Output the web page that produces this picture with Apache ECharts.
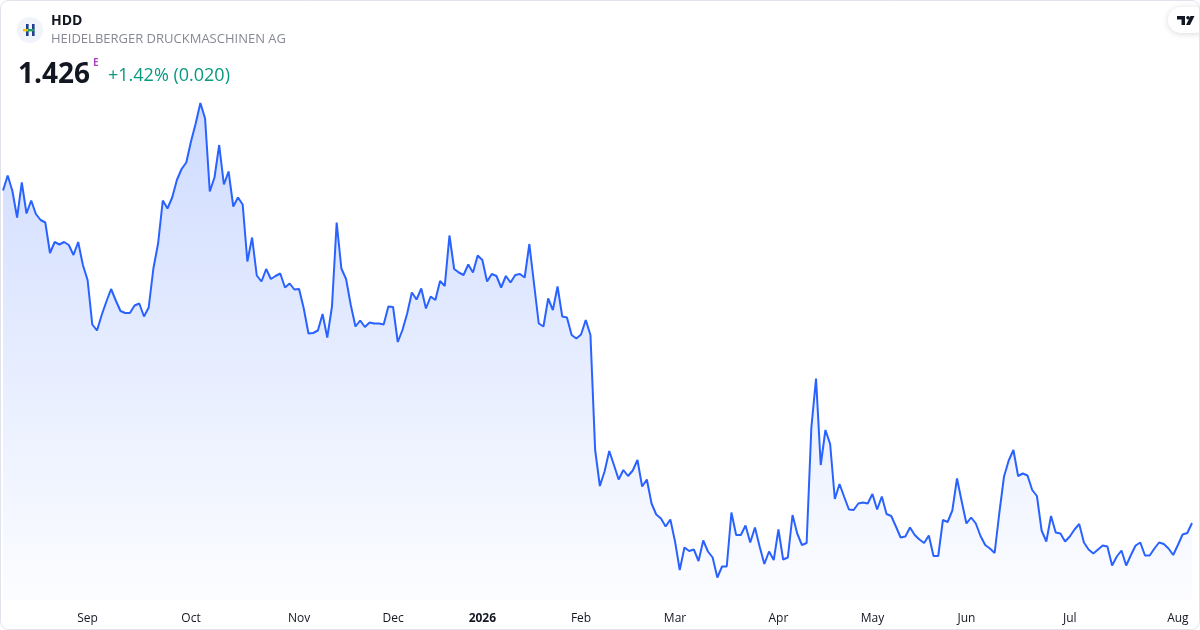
<!DOCTYPE html>
<html lang="en">
<head>
    <meta charset="UTF-8">
    <title>HDD</title>
    <script src="https://cdn.jsdelivr.net/npm/echarts@6/dist/echarts.min.js"></script>
    <style>
        html, body { margin: 0; padding: 0; background: #fff; }
    </style>
</head>
<body>
    <div id="main" style="width: 1200px; height: 630px;"></div>
    <script type="text/javascript">
        // symbol / header
        var ticker = 'HDD';
        var company = 'HEIDELBERGER DRUCKMASCHINEN AG';
        var lastPrice = '1.426';
        var change = '+1.42% (0.020)';

        // trading calendar (Xetra), first session and closed days
        var firstDay = '2025-08-06';
        var holidays = ['2025-12-24', '2025-12-25', '2025-12-26', '2025-12-31',
            '2026-01-01', '2026-04-03', '2026-04-06', '2026-05-01'];
        var monthNames = ['Jan', 'Feb', 'Mar', 'Apr', 'May', 'Jun', 'Jul', 'Aug', 'Sep', 'Oct', 'Nov', 'Dec'];

        // daily closes
        var closes = [
            2.091, 2.121, 2.090, 2.037, 2.107, 2.045, 2.071, 2.044, 2.032, 2.027,
            1.966, 1.988, 1.983, 1.988, 1.982, 1.962, 1.988, 1.942, 1.912, 1.823,
            1.811, 1.842, 1.869, 1.894, 1.871, 1.850, 1.846, 1.846, 1.861, 1.865,
            1.839, 1.857, 1.935, 1.985, 2.071, 2.055, 2.077, 2.112, 2.134, 2.147,
            2.189, 2.225, 2.266, 2.235, 2.089, 2.117, 2.182, 2.103, 2.129, 2.059,
            2.077, 2.063, 1.949, 1.997, 1.921, 1.909, 1.934, 1.914, 1.920, 1.925,
            1.897, 1.905, 1.893, 1.894, 1.855, 1.805, 1.806, 1.811, 1.844, 1.797,
            1.859, 2.027, 1.935, 1.914, 1.862, 1.819, 1.831, 1.818, 1.827, 1.825,
            1.825, 1.823, 1.859, 1.858, 1.788, 1.812, 1.845, 1.887, 1.873, 1.895,
            1.855, 1.879, 1.872, 1.910, 1.900, 2.001, 1.934, 1.927, 1.922, 1.943,
            1.927, 1.961, 1.952, 1.909, 1.924, 1.920, 1.897, 1.920, 1.907, 1.922,
            1.924, 1.917, 1.984, 1.904, 1.825, 1.819, 1.875, 1.852, 1.899, 1.839,
            1.837, 1.802, 1.795, 1.803, 1.832, 1.802, 1.572, 1.500, 1.529, 1.570,
            1.542, 1.513, 1.532, 1.520, 1.531, 1.552, 1.499, 1.513, 1.465, 1.443,
            1.435, 1.419, 1.433, 1.389, 1.332, 1.377, 1.370, 1.373, 1.350, 1.391,
            1.369, 1.357, 1.317, 1.339, 1.339, 1.447, 1.402, 1.402, 1.421, 1.387,
            1.417, 1.379, 1.344, 1.369, 1.352, 1.413, 1.353, 1.357, 1.442, 1.405,
            1.382, 1.386, 1.616, 1.715, 1.542, 1.612, 1.584, 1.474, 1.504, 1.478,
            1.453, 1.452, 1.465, 1.467, 1.465, 1.484, 1.453, 1.479, 1.444, 1.440,
            1.419, 1.397, 1.399, 1.417, 1.402, 1.393, 1.386, 1.401, 1.360, 1.360,
            1.432, 1.428, 1.451, 1.515, 1.469, 1.425, 1.437, 1.425, 1.400, 1.382,
            1.375, 1.366, 1.446, 1.519, 1.551, 1.572, 1.520, 1.525, 1.521, 1.492,
            1.480, 1.411, 1.389, 1.440, 1.407, 1.405, 1.389, 1.399, 1.413, 1.424,
            1.387, 1.373, 1.365, 1.373, 1.381, 1.379, 1.341, 1.359, 1.371, 1.341,
            1.362, 1.381, 1.387, 1.361, 1.361, 1.375, 1.387, 1.384, 1.375, 1.362,
            1.382, 1.403, 1.406, 1.426
        ];

        function pad(n) { return n < 10 ? '0' + n : '' + n; }

        // one category per trading session
        var dates = [];
        var d = new Date(firstDay + 'T12:00:00Z');
        while (dates.length < closes.length) {
            var s = d.getUTCFullYear() + '-' + pad(d.getUTCMonth() + 1) + '-' + pad(d.getUTCDate());
            var wd = d.getUTCDay();
            if (wd !== 0 && wd !== 6 && holidays.indexOf(s) < 0) dates.push(s);
            d.setUTCDate(d.getUTCDate() + 1);
        }

        function isMonthStart(idx) {
            if (idx === 0) return false;
            return dates[idx].slice(5, 7) !== dates[idx - 1].slice(5, 7);
        }

        var font = '"Open Sans", Roboto, sans-serif';
        var myChart = echarts.init(document.getElementById('main'));

        var option = {
            animation: false,
            backgroundColor: '#ffffff',
            textStyle: { fontFamily: font },
            grid: { left: 3, right: 8, top: 95, bottom: 30 },
            xAxis: {
                type: 'category',
                data: dates,
                boundaryGap: false,
                axisLine: { show: false },
                axisTick: { show: false },
                splitLine: { show: false },
                axisLabel: {
                    margin: 13,
                    fontSize: 12,
                    color: '#131722',
                    interval: function (idx) { return isMonthStart(idx); },
                    formatter: function (val) {
                        var m = +val.slice(5, 7);
                        if (m === 1) return '{y|' + val.slice(0, 4) + '}';
                        return monthNames[m - 1];
                    },
                    rich: {
                        y: { fontWeight: 'bold', fontSize: 12, color: '#131722', fontFamily: font }
                    }
                }
            },
            yAxis: {
                type: 'value',
                show: false,
                min: 1.272,
                max: 2.282
            },
            series: [{
                type: 'line',
                data: closes,
                symbol: 'none',
                lineStyle: { color: '#2962ff', width: 2 },
                areaStyle: {
                    color: new echarts.graphic.LinearGradient(0, 0, 0, 1, [
                        { offset: 0, color: 'rgba(41, 98, 255, 0.32)' },
                        { offset: 1, color: 'rgba(41, 98, 255, 0.02)' }
                    ])
                }
            }],
            graphic: [
                // outer frame
                {
                    type: 'rect', z: 100, silent: true,
                    shape: { x: 0.5, y: 0.5, width: 1199, height: 629, r: 8 },
                    style: { fill: 'none', stroke: '#e0e3eb', lineWidth: 1 }
                },
                // company logo
                {
                    type: 'group', left: 17, top: 17,
                    children: [
                        { type: 'circle', shape: { cx: 13, cy: 13, r: 13 }, style: { fill: '#f0f3fa' } },
                        { type: 'rect', shape: { x: 9, y: 7, width: 2.6, height: 12 }, style: { fill: '#1d3f8f' } },
                        { type: 'rect', shape: { x: 15, y: 7, width: 2.6, height: 12 }, style: { fill: '#1d3f8f' } },
                        { type: 'rect', shape: { x: 6, y: 12, width: 5, height: 2.4 }, style: { fill: '#f5c400' } },
                        { type: 'rect', shape: { x: 11, y: 12, width: 6, height: 2.4 }, style: { fill: '#1aa260' } }
                    ]
                },
                {
                    type: 'text', left: 51, top: 14,
                    style: { text: ticker, fontSize: 14, fontWeight: 'bold', fill: '#131722', fontFamily: font }
                },
                {
                    type: 'text', left: 51, top: 33,
                    style: { text: company, fontSize: 13, fill: '#868993', fontFamily: font }
                },
                {
                    type: 'text', left: 18, top: 61,
                    style: { text: lastPrice, fontSize: 28, fontWeight: 'bold', fill: '#131722', fontFamily: font }
                },
                {
                    type: 'text', left: 93, top: 58,
                    style: { text: 'E', fontSize: 10, fontWeight: 'bold', fill: '#ab47bc', fontFamily: font }
                },
                {
                    type: 'text', left: 108, top: 67,
                    style: { text: change, fontSize: 18, fill: '#089981', fontFamily: font }
                },
                // TradingView badge
                {
                    type: 'group', left: 1168, top: 7,
                    children: [
                        {
                            type: 'rect', shape: { x: 0, y: 0, width: 40, height: 26, r: 13 },
                            style: { fill: '#ffffff', shadowBlur: 6, shadowColor: 'rgba(0,0,0,0.15)', shadowOffsetY: 1 }
                        },
                        { type: 'rect', shape: { x: 9, y: 9, width: 8, height: 3.5 }, style: { fill: '#131722' } },
                        { type: 'rect', shape: { x: 13.5, y: 9, width: 3.5, height: 9 }, style: { fill: '#131722' } },
                        { type: 'circle', shape: { cx: 20, cy: 10.7, r: 1.8 }, style: { fill: '#131722' } },
                        {
                            type: 'polygon',
                            shape: { points: [[22.5, 9], [26.5, 9], [22, 18], [18, 18]] },
                            style: { fill: '#131722' }
                        }
                    ]
                }
            ]
        };

        myChart.setOption(option);
    </script>
</body>
</html>
